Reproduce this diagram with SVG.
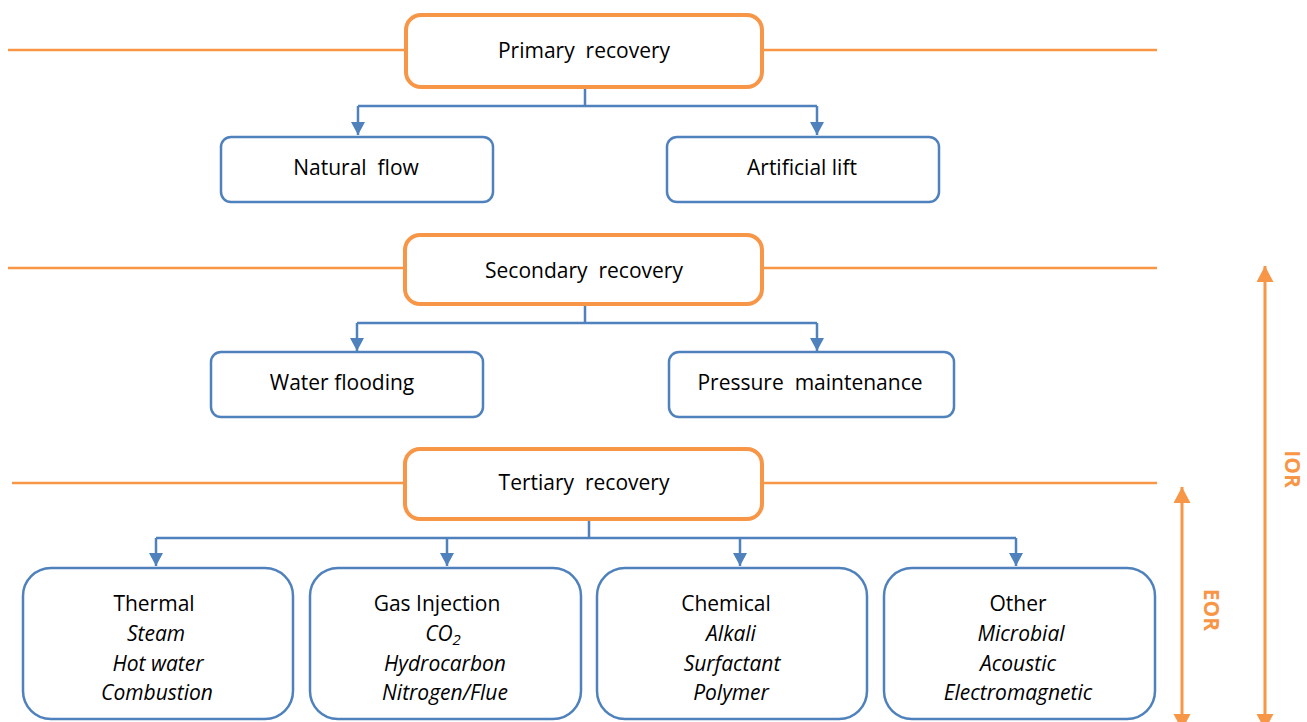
<svg xmlns="http://www.w3.org/2000/svg" width="1307" height="722" viewBox="0 0 1307 722">
<style>
text{font-family:"Open Sans","Noto Sans",sans-serif;font-size:21px;fill:#000;text-anchor:middle;white-space:pre}
.it{font-style:italic}
.stage{fill:#fff;stroke:#F79646;stroke-width:4}
.sub{fill:#fff;stroke:#4F81BD;stroke-width:2.5}
.hl{stroke:#F79646;stroke-width:2.5;fill:none}
.con{stroke:#4F81BD;stroke-width:2.5;fill:none}
.dbl{stroke:#F79646;stroke-width:3;fill:none}
.lbl{fill:#F79646;font-weight:bold;font-size:21px}
</style>
<defs>
<marker id="ab" markerWidth="16" markerHeight="14" refX="13" refY="7" orient="auto" markerUnits="userSpaceOnUse">
<path d="M0,0 L13,7 L0,14 Z" fill="#4F81BD"/>
</marker>
<marker id="ao" markerWidth="18" markerHeight="18" refX="16" refY="8.5" orient="auto-start-reverse" markerUnits="userSpaceOnUse">
<path d="M0,0 L16,8.5 L0,17 Z" fill="#F79646"/>
</marker>
</defs>
<g id="separators">
<path class="hl" d="M8,50 H406 M762,50 H1157"/>
<path class="hl" d="M8,268 H405 M762,268 H1157"/>
<path class="hl" d="M12,483 H405 M762,483 H1157"/>
</g>
<g id="connectors">
<path class="con" d="M585,87 V106 M358,106 H817"/>
<path class="con" d="M358,106 V135" marker-end="url(#ab)"/>
<path class="con" d="M817,106 V135" marker-end="url(#ab)"/>
<path class="con" d="M585,304 V323 M357,323 H817"/>
<path class="con" d="M357,323 V351" marker-end="url(#ab)"/>
<path class="con" d="M817,323 V351" marker-end="url(#ab)"/>
<path class="con" d="M589,519 V538 M156,538 H1016"/>
<path class="con" d="M156,538 V566" marker-end="url(#ab)"/>
<path class="con" d="M447,538 V566" marker-end="url(#ab)"/>
<path class="con" d="M740,538 V566" marker-end="url(#ab)"/>
<path class="con" d="M1016,538 V566" marker-end="url(#ab)"/>
</g>
<g id="primary">
<rect class="stage" x="406" y="15" width="356" height="72" rx="15"/>
<text x="584" y="58">Primary  recovery</text>
</g>
<g id="natural-flow">
<rect class="sub" x="221" y="137" width="272" height="65" rx="10"/>
<text x="356" y="175">Natural  flow</text>
</g>
<g id="artificial-lift">
<rect class="sub" x="667" y="137" width="272" height="65" rx="10"/>
<text x="802" y="175">Artificial lift</text>
</g>
<g id="secondary">
<rect class="stage" x="405" y="235" width="357" height="69" rx="15"/>
<text x="584" y="278">Secondary  recovery</text>
</g>
<g id="water-flooding">
<rect class="sub" x="211" y="352" width="272" height="65" rx="10"/>
<text x="342" y="390">Water flooding</text>
</g>
<g id="pressure-maintenance">
<rect class="sub" x="669" y="352" width="285" height="65" rx="10"/>
<text x="810" y="390">Pressure  maintenance</text>
</g>
<g id="tertiary">
<rect class="stage" x="405" y="449" width="357" height="70" rx="15"/>
<text x="584" y="490">Tertiary  recovery</text>
</g>
<g id="thermal">
<rect class="sub" x="23" y="568" width="270" height="151" rx="28"/>
<text x="154" y="611">Thermal</text>
<text class="it" x="156" y="641">Steam</text>
<text class="it" x="158" y="671">Hot water</text>
<text class="it" x="157" y="700">Combustion</text>
</g>
<g id="gas-injection">
<rect class="sub" x="310" y="568" width="271" height="151" rx="28"/>
<text x="437" y="611">Gas Injection</text>
<text class="it" x="443" y="641">CO<tspan font-size="15" dy="4">2</tspan></text>
<text class="it" x="445" y="671">Hydrocarbon</text>
<text class="it" x="445" y="700">Nitrogen/Flue</text>
</g>
<g id="chemical">
<rect class="sub" x="597" y="568" width="270" height="151" rx="28"/>
<text x="726" y="611">Chemical</text>
<text class="it" x="731" y="641">Alkali</text>
<text class="it" x="732" y="671">Surfactant</text>
<text class="it" x="731" y="700">Polymer</text>
</g>
<g id="other">
<rect class="sub" x="884" y="568" width="271" height="151" rx="28"/>
<text x="1018" y="611">Other</text>
<text class="it" x="1021" y="641">Microbial</text>
<text class="it" x="1018" y="671">Acoustic</text>
<text class="it" x="1018" y="700">Electromagnetic</text>
</g>
<g id="ior">
<path class="dbl" d="M1265,266 V730" marker-start="url(#ao)" marker-end="url(#ao)"/>
<text class="lbl" transform="translate(1285,469) rotate(90)">IOR</text>
</g>
<g id="eor">
<path class="dbl" d="M1182,487 V730" marker-start="url(#ao)" marker-end="url(#ao)"/>
<text class="lbl" transform="translate(1204,610) rotate(90)">EOR</text>
</g>
</svg>
